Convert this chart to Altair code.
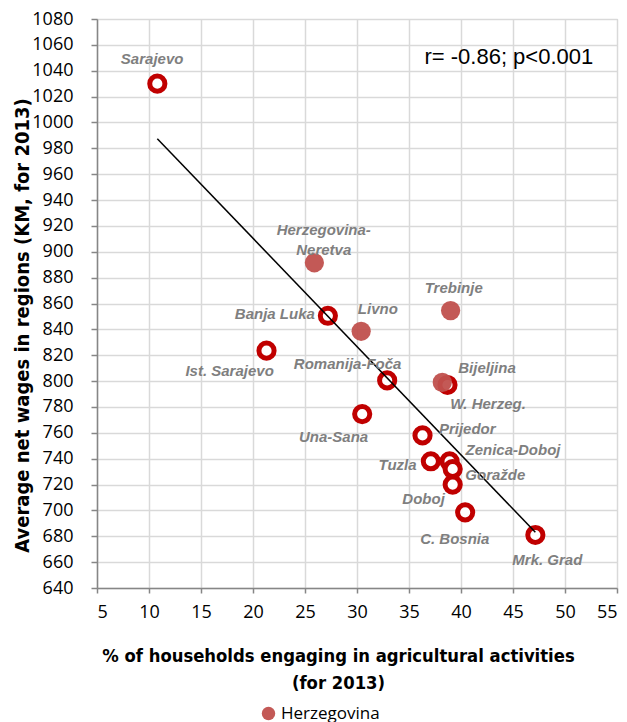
import altair as alt
import pandas as pd

regions = ["Sarajevo", "Herzegovina-Neretva", "Banja Luka", "Livno", "Trebinje",
           "Ist. Sarajevo", "Romanija-Foča", "W. Herzeg.", "Bijeljina", "Una-Sana",
           "Prijedor", "Tuzla", "Zenica-Doboj", "Goražde", "Doboj", "C. Bosnia", "Mrk. Grad"]
agri_pct = [10.8, 25.9, 27.2, 30.4, 39.0, 21.3, 32.9, 38.2, 38.7, 30.5,
            36.3, 37.1, 38.9, 39.2, 39.2, 40.4, 47.15]
net_wage = [1030, 891.5, 850.5, 838.5, 854.5, 823.5, 800.5, 799, 797, 774.5,
            758, 738, 738, 732, 720, 698.5, 681]
group = ["Other", "Herzegovina", "Other", "Herzegovina", "Herzegovina",
         "Other", "Other", "Herzegovina", "Other", "Other",
         "Other", "Other", "Other", "Other", "Other", "Other", "Other"]

label_text = ["Sarajevo", "Herzegovina-\nNeretva", "Banja Luka", "Livno", "Trebinje",
              "Ist. Sarajevo", "Romanija-Foča", "W. Herzeg.", "Bijeljina", "Una-Sana",
              "Prijedor", "Tuzla", "Zenica-Doboj", "Goražde", "Doboj", "C. Bosnia", "Mrk. Grad"]
label_x = [10.3, 26.8, 22.1, 32.0, 39.3, 17.75, 29.1, 42.6, 42.5, 27.75,
           40.6, 33.9, 45.0, 43.3, 36.4, 39.4, 48.3]
label_y = [1049, 916.5, 852, 855.5, 872, 808, 813.5, 782, 810.5, 757,
           763, 735, 746.5, 727, 709, 678, 661.5]

annot_text = ["r= -0.86; p<0.001"]
annot_x = [44.6]
annot_y = [1051]

x_ticks = list(range(5, 56, 5))
y_ticks = list(range(640, 1081, 20))

df = pd.DataFrame({"region": regions, "x": agri_pct, "y": net_wage, "group": group})
labels = pd.DataFrame({"text": label_text, "x": label_x, "y": label_y})
annot = pd.DataFrame({"text": annot_text, "x": annot_x, "y": annot_y})

title_font = "Liberation Sans Narrow, Arial Narrow, DejaVu Sans Condensed, sans-serif"

xs = alt.Scale(domain=[5, 55], nice=False)
ys = alt.Scale(domain=[640, 1080], nice=False)

x_axis = alt.Axis(
    values=x_ticks, format="d", labelOverlap=False,
    title=["% of households engaging in agricultural activities", "(for 2013)"],
    titleFont=title_font, titleFontSize=18.3, titleFontWeight="bold", titleColor="black",
    titleLineHeight=27, titleX=241, titleY=68, titleBaseline="middle", titleAlign="center",
    labelFont="Open Sans", labelFontSize=18, labelColor="black", labelPadding=10,
    domainColor="#868686", domainWidth=1.5, tickColor="#868686", tickSize=5, tickWidth=1.5,
    grid=True, gridColor="#d9d9d9", gridWidth=1.5)
y_axis = alt.Axis(
    values=y_ticks, format="d", labelOverlap=False,
    title="Average net wages in regions (KM, for 2013)",
    titleFont=title_font, titleFontSize=20, titleFontWeight="bold", titleColor="black",
    titleX=-75, titleY=306, titleAngle=-90, titleBaseline="middle", titleAlign="center",
    labelFont="Open Sans", labelFontSize=18, labelColor="black", labelPadding=18,
    domainColor="#868686", domainWidth=1.5, tickColor="#868686", tickSize=6, tickWidth=1.5,
    grid=True, gridColor="#d9d9d9", gridWidth=1.5)

x_enc = alt.X("x:Q", scale=xs, axis=x_axis)
y_enc = alt.Y("y:Q", scale=ys, axis=y_axis)

base = alt.Chart(df)

rings = base.transform_filter(alt.datum.group == "Other").mark_circle(
    size=230, fill="white", fillOpacity=1, stroke="#C00000", strokeWidth=5, opacity=1
).encode(x=x_enc, y=y_enc)

filled = base.transform_filter(alt.datum.group == "Herzegovina").mark_circle(
    size=370, opacity=0.95
).encode(
    x=x_enc, y=y_enc,
    color=alt.Color("group:N", scale=alt.Scale(domain=["Herzegovina"], range=["#C0504D"]),
                    legend=alt.Legend(orient="none", legendX=163, legendY=686, title=None,
                                      symbolType="circle", symbolSize=180, symbolStrokeWidth=0,
                                      labelFont="Open Sans", labelFontSize=17, labelColor="black",
                                      labelOffset=4, padding=0))
)

trend = base.transform_regression("x", "y").mark_line(color="black", strokeWidth=1.5).encode(
    x=x_enc, y=y_enc)

lab = alt.Chart(labels).mark_text(
    font="Liberation Sans", fontSize=15, fontWeight="bold", fontStyle="italic",
    color="#7f7f7f", align="center", baseline="middle", lineBreak="\n", lineHeight=20
).encode(x=x_enc, y=y_enc, text="text:N")

ann = alt.Chart(annot).mark_text(
    font="Liberation Sans", fontSize=22, color="black", align="center", baseline="middle"
).encode(x=x_enc, y=y_enc, text="text:N")

chart = alt.layer(rings, filled, trend, lab, ann).properties(
    width=520, height=569,
    autosize=alt.AutoSizeParams(type="none"),
    padding={"left": 89, "top": 11, "right": 2, "bottom": 134},
    background="white"
).configure_view(stroke="#bfbfbf", strokeWidth=1)

chart.save("out.html", embed_options={"renderer": "svg", "actions": False})
